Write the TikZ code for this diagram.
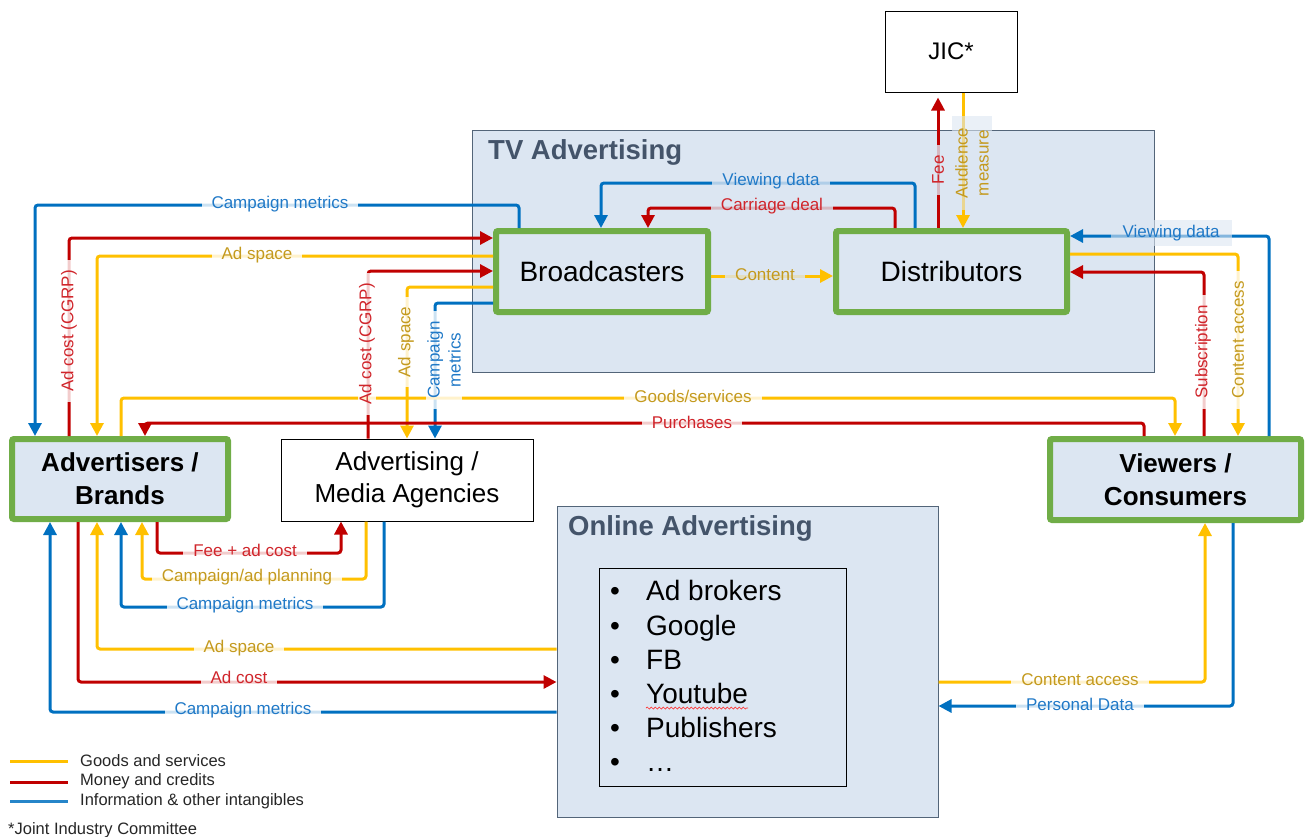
\documentclass[tikz,border=0pt]{standalone}
\usepackage{fontspec}
\setmainfont{Liberation Sans}
\usetikzlibrary{arrows.meta,decorations.pathmorphing}
\definecolor{cy}{HTML}{FFC000}
\definecolor{cr}{HTML}{C00000}
\definecolor{cb}{HTML}{0070C0}
\definecolor{ty}{HTML}{C49A1E}
\definecolor{tr}{HTML}{D0252B}
\definecolor{tb}{HTML}{2079C7}
\definecolor{boxfill}{HTML}{DCE6F2}
\definecolor{cg}{HTML}{70AD47}
\definecolor{tvtitle}{HTML}{44546A}
\definecolor{tvline}{HTML}{536579}
\begin{document}
\begin{tikzpicture}[x=1pt,y=-1pt,
  flow/.style={line width=3pt, rounded corners=3pt},
  fy/.style={flow, draw=cy}, fr/.style={flow, draw=cr}, fb/.style={flow, draw=cb},
  tip/.style={-{Triangle[length=13pt,width=13pt]}},
  gbox/.style={draw=cg, line width=6pt, fill=boxfill, rounded corners=2pt, inner sep=0pt, align=center},
  wbox/.style={draw=black, line width=1pt, fill=white, inner sep=0pt, align=center},
  area/.style={draw=tvline, line width=1pt, fill=boxfill, inner sep=0pt},
  lbl/.style={fill=white, fill opacity=0.8, text opacity=1, inner xsep=10pt, inner ysep=1.5pt, font=\fontsize{17}{19}\selectfont},
  ly/.style={lbl, text=ty}, lr/.style={lbl, text=tr}, lb/.style={lbl, text=tb},
  inbox/.style={fill=boxfill},
  legtxt/.style={anchor=west, inner sep=0pt, font=\fontsize{16.5}{18}\selectfont, text=black!85}
]
\useasboundingbox (0,0) rectangle (1305,836);

% areas
\node[area, minimum width=682pt, minimum height=242pt] (tv) at (813,251) {};
\node[anchor=west, inner sep=0pt, text=tvtitle, font=\fontsize{27.5}{30}\selectfont\bfseries] (tvt) at (488,152) {TV Advertising};
\node[area, minimum width=381pt, minimum height=311pt] (onl) at (747.5,661.5) {};
\node[anchor=west, inner sep=0pt, text=tvtitle, font=\fontsize{27.5}{30}\selectfont\bfseries] (onlt) at (568,528) {Online Advertising};
\node[draw=black, line width=1pt, inner sep=0pt, minimum width=247pt, minimum height=218pt] (lst) at (722.5,677) {};

% boxes
\node[wbox, minimum width=132pt, minimum height=81pt, font=\fontsize{24}{28}\selectfont] (jic) at (951,51.5) {JIC*};
\node[gbox, minimum width=212pt, minimum height=81pt, font=\fontsize{28}{32}\selectfont] (brd) at (602,271.5) {Broadcasters};
\node[gbox, minimum width=231pt, minimum height=81pt, font=\fontsize{28}{32}\selectfont] (dst) at (951.5,271.5) {Distributors};
\node[gbox, minimum width=216pt, minimum height=80pt, font=\fontsize{26}{33}\selectfont\bfseries] (adv) at (120,479) {Advertisers /\\Brands};
\node[gbox, minimum width=251pt, minimum height=81pt, font=\fontsize{26}{33}\selectfont\bfseries] (vwr) at (1175.5,479.5) {Viewers /\\Consumers};
\node[wbox, minimum width=252pt, minimum height=82pt, font=\fontsize{26}{32}\selectfont] (agc) at (407,480) {Advertising /\\Media Agencies};

% list
\foreach \t/\b [count=\i] in {Ad brokers/600, Google/635, FB/669, Youtube/703, Publishers/737, …/771}{
  \node[anchor=base, inner sep=0pt, font=\fontsize{28}{30}\selectfont] (bu\i) at (615,\b) {•};
  \node[anchor=base west, inner sep=0pt, font=\fontsize{28}{30}\selectfont] (it\i) at (646,\b) {\t};
}
\draw[red!80, line width=0.7pt, decorate, decoration={snake, amplitude=1pt, segment length=4pt}]
  ([yshift=-5pt]it4.base west) -- ([yshift=-5pt]it4.base east);

% TV connectors
\draw[fb,tip] (brd.north -| 519,0) |- (35,205) -- (adv.north -| 35,0);
\draw[fr,tip] (adv.north -| 69,0) |- (brd.west |- 0,238);
\draw[fy,tip] (brd.west |- 0,256) -| (adv.north -| 97,0);
\draw[fr,tip] (agc.north -| 368,0) |- (brd.west |- 0,271);
\draw[fy,tip] (brd.west |- 0,287) -| (agc.north -| 407,0);
\draw[fb,tip] (brd.west |- 0,303) -| (agc.north -| 435,0);
\draw[fy,tip] (adv.north -| 121,0) |- (1175,398) -- (vwr.north -| 1175,0);
\draw[fr,tip] (vwr.north -| 1144,0) |- (145,423) -- (adv.north -| 145,0);
\draw[fb,tip] (dst.north -| 915,0) |- (601,183) -- (brd.north -| 601,0);
\draw[fr,tip] (dst.north -| 895,0) |- (648,208) -- (brd.north -| 648,0);
\draw[fy,tip] (brd.east |- 0,276) -- (dst.west |- 0,276);
\draw[fr,tip,shorten >=5pt] (dst.north -| 938,0) -- (jic.south -| 938,0);
\draw[fy,tip] (jic.south -| 963,0) -- (dst.north -| 963,0);
\draw[fb,tip] (vwr.north -| 1269,0) |- (dst.east |- 0,236);
\draw[fy,tip] (dst.east |- 0,254) -| (vwr.north -| 1238,0);
\draw[fr,tip] (vwr.north -| 1204,0) |- (dst.east |- 0,272);

% agencies / online connectors
\draw[fr,tip] (adv.south -| 157,0) |- (341,553) -- (agc.south -| 341,0);
\draw[fy,tip] (agc.south -| 366,0) |- (142,579) -- (adv.south -| 142,0);
\draw[fb,tip] (agc.south -| 384,0) |- (121,607) -- (adv.south -| 121,0);
\draw[fy,tip] (onl.west |- 0,649) -| (adv.south -| 97,0);
\draw[fr,tip] (adv.south -| 78,0) |- (onl.west |- 0,682);
\draw[fb,tip] (onl.west |- 0,712) -| (adv.south -| 50,0);
\draw[fy,tip] (onl.east |- 0,682) -| (vwr.south -| 1205,0);
\draw[fb,tip] (vwr.south -| 1233,0) |- (onl.east |- 0,706);

% labels
\node[lb] (l1) at (280,204) {Campaign metrics};
\node[lr, rotate=90] (l2) at (69,331) {Ad cost (CGRP)};
\node[ly] (l3) at (257,255) {Ad space};
\node[lr, rotate=90] (l4) at (367,344) {Ad cost (CGRP)};
\node[ly, rotate=90] (l5) at (406,342) {Ad space};
\node[lb, rotate=90, align=center, font=\fontsize{17}{21}\selectfont] (l6) at (444,360) {Campaign\\metrics};
\node[ly] (l7) at (693,396) {Goods/services};
\node[lr] (l8) at (692,422) {Purchases};
\node[lb, inbox] (l9) at (771,181) {Viewing data};
\node[lr, inbox] (l10) at (772,206) {Carriage deal};
\node[ly, inbox] (l11) at (765,275) {Content};
\node[lr, inbox, rotate=90] (l12) at (938,170) {Fee};
\node[ly, inbox, fill opacity=0.6, rotate=90, align=center, font=\fontsize{17}{21}\selectfont, inner xsep=12pt, inner ysep=3pt] (l13) at (972,163) {Audience\\measure};
\node[lb, inbox, fill opacity=0.6, inner xsep=12pt, inner ysep=5pt] (l14) at (1171,233) {Viewing data};
\node[ly, rotate=90] (l15) at (1238,340) {Content access};
\node[lr, rotate=90] (l16) at (1203,352) {Subscription};
\node[lr] (l17) at (245,550) {Fee + ad cost};
\node[ly] (l18) at (247,577) {Campaign/ad planning};
\node[lb] (l19) at (245,605) {Campaign metrics};
\node[ly] (l20) at (239,648) {Ad space};
\node[lr] (l21) at (239,677) {Ad cost};
\node[lb] (l22) at (243,710) {Campaign metrics};
\node[ly] (l23) at (1080,680) {Content access};
\node[lb] (l24) at (1080,704) {Personal Data};

% legend
\draw[line width=3pt, cy] (10,761) -- (68,761);
\draw[line width=3pt, cr] (10,782) -- (68,782);
\draw[line width=3pt, cb!85] (10,801) -- (68,801);
\node[legtxt] (g1) at (80,761) {Goods and services};
\node[legtxt] (g2) at (80,781) {Money and credits};
\node[legtxt] (g3) at (80,801) {Information \& other intangibles};
\node[legtxt] (g4) at (8,830) {*Joint Industry Committee};
\end{tikzpicture}
\end{document}
